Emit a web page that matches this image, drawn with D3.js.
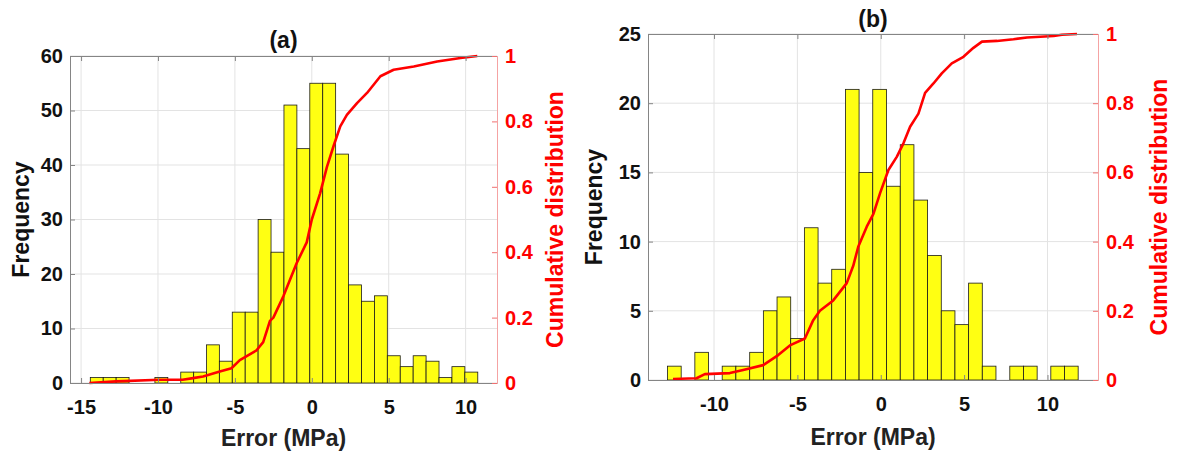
<!DOCTYPE html>
<html>
<head>
<meta charset="utf-8">
<script src="https://cdn.jsdelivr.net/npm/d3@7"></script>
<style>
  html, body { margin: 0; padding: 0; background: #fff; }
  svg { display: block; }
  text { font-family: "Liberation Sans", Arial, sans-serif; font-weight: bold; }
</style>
</head>
<body>
<script>
// ---- data ------------------------------------------------------------
// panel (a): histogram of errors, 30 bins
const edgesA = [-14.40, -13.56, -12.72, -11.88, -11.04, -10.20, -9.36, -8.52, -7.68, -6.84,
  -6.01, -5.17, -4.33, -3.49, -2.65, -1.81, -0.97, -0.13, 0.71, 1.55,
  2.39, 3.23, 4.07, 4.91, 5.75, 6.59, 7.43, 8.27, 9.11, 9.95, 10.79];
const countsA = [1, 1, 1, 0, 0, 1, 0, 2, 2, 7, 4, 13, 13, 30, 24, 51, 43, 55, 55, 42,
  18, 15, 16, 5, 3, 5, 4, 1, 3, 2];
// empirical cumulative distribution (a)
const cdfXA = [-14.46, -12.72, -9.9, -8.4, -7.72, -7.07, -5.98, -5.22, -4.68, -3.59, -3.16,
  -2.72, -2.5, -1.85, -0.98, -0.33, 0, 0.54, 0.98, 1.41, 1.85, 2.28, 2.94, 3.59,
  4.46, 5.32, 6.63, 8.15, 9.67, 10.76];
const cdfYA = [0, 0.005, 0.01, 0.01, 0.015, 0.02, 0.035, 0.045, 0.07, 0.10, 0.125,
  0.19, 0.20, 0.265, 0.367, 0.43, 0.5, 0.58, 0.66, 0.724, 0.785, 0.82, 0.856, 0.887,
  0.938, 0.958, 0.968, 0.983, 0.994, 1.0];

// panel (b)
const edgesB = [-12.79, -11.97, -11.15, -10.33, -9.51, -8.69, -7.86, -7.04, -6.22, -5.40,
  -4.58, -3.76, -2.94, -2.12, -1.30, -0.48, 0.35, 1.17, 1.99, 2.81,
  3.63, 4.45, 5.27, 6.09, 6.91, 7.74, 8.56, 9.38, 10.20, 11.02, 11.84];
const countsB = [1, 0, 2, 0, 1, 1, 2, 5, 6, 3, 11, 7, 8, 21, 15, 21, 14, 17, 13, 9,
  5, 4, 7, 1, 0, 1, 1, 0, 1, 1];
const cdfXB = [-12.46, -11.05, -10.55, -9.05, -8.25, -7.05, -6.15, -5.45, -4.55, -4.05,
  -3.65, -2.85, -2.04, -1.65, -1.35, -0.84, -0.44, -0.04, 0.46, 0.96, 1.36, 1.76,
  2.26, 2.66, 3.16, 3.66, 4.26, 4.96, 5.56, 6.07, 6.97, 7.96, 8.77, 10.37, 10.87, 11.77];
const cdfYB = [0.003, 0.005, 0.017, 0.02, 0.029, 0.043, 0.072, 0.10, 0.12, 0.173,
  0.20, 0.23, 0.28, 0.33, 0.385, 0.443, 0.48, 0.54, 0.607, 0.645, 0.684, 0.732,
  0.77, 0.83, 0.857, 0.886, 0.915, 0.934, 0.96, 0.978, 0.98, 0.985, 0.99, 0.994, 0.998, 1.0];

// ticks
const xTicksA = [-15, -10, -5, 0, 5, 10];
const yTicksA = [0, 10, 20, 30, 40, 50, 60];
const xTicksB = [-10, -5, 0, 5, 10];
const yTicksB = [0, 5, 10, 15, 20, 25];
const cdfTicks = [0, 0.2, 0.4, 0.6, 0.8, 1];

const W = 1182, H = 452;
const svg = d3.select("body").append("svg")
    .attr("width", W)
    .attr("height", H);

// plain hyphen minus, like the original figure
const fmt = d => String(d);

function drawPanel(p) {
  let x = d3.scaleLinear().domain(p.xDomain).range([p.left, p.right]),
      y = d3.scaleLinear().domain(p.yDomain).range([p.bottom, p.top]),
      y2 = d3.scaleLinear().domain([0, 1]).range([p.bottom, p.top]);

  let g = svg.append("g");

  // grid lines (behind data)
  g.append("g").selectAll("line")
      .data(p.xTicks)
    .enter().append("line")
      .attr("x1", d => x(d)).attr("x2", d => x(d))
      .attr("y1", p.top).attr("y2", p.bottom)
      .attr("stroke", "#e3e3e3").attr("stroke-width", 1);
  g.append("g").selectAll("line")
      .data(p.yTicks)
    .enter().append("line")
      .attr("x1", p.left).attr("x2", p.right)
      .attr("y1", d => y(d)).attr("y2", d => y(d))
      .attr("stroke", "#e3e3e3").attr("stroke-width", 1);

  // histogram bars
  let bins = p.counts.map((c, i) => ({x0: p.edges[i], x1: p.edges[i + 1], n: c}))
      .filter(d => d.n > 0);
  g.append("g").selectAll("rect")
      .data(bins)
    .enter().append("rect")
      .attr("x", d => x(d.x0))
      .attr("width", d => x(d.x1) - x(d.x0))
      .attr("y", d => y(d.n))
      .attr("height", d => y(0) - y(d.n))
      .attr("fill", "#ffff12")
      .attr("stroke", "#1a1a1a")
      .attr("stroke-width", 0.8);

  // cumulative distribution
  let line = d3.line()
      .x(d => x(d[0]))
      .y(d => y2(d[1]));
  g.append("path")
      .datum(p.cdfX.map((v, i) => [v, p.cdfY[i]]))
      .attr("d", line)
      .attr("fill", "none")
      .attr("stroke", "#ff0000")
      .attr("stroke-width", 2.6)
      .attr("stroke-linejoin", "round");

  // axes, box style with inward ticks
  let axGray = "#858585";
  let bottomAx = g.append("g")
      .attr("transform", `translate(0,${p.bottom})`)
      .call(d3.axisBottom(x).tickValues(p.xTicks).tickSizeInner(-5).tickSizeOuter(0).tickFormat(fmt));
  let topAx = g.append("g")
      .attr("transform", `translate(0,${p.top})`)
      .call(d3.axisTop(x).tickValues(p.xTicks).tickSizeInner(-5).tickSizeOuter(0).tickFormat(""));
  let leftAx = g.append("g")
      .attr("transform", `translate(${p.left},0)`)
      .call(d3.axisLeft(y).tickValues(p.yTicks).tickSizeInner(-5).tickSizeOuter(0)
        .tickPadding(7).tickFormat(fmt));
  let rightAx = g.append("g")
      .attr("transform", `translate(${p.right},0)`)
      .call(d3.axisRight(y2).tickValues(cdfTicks).tickSizeInner(-5).tickSizeOuter(0)
        .tickPadding(8).tickFormat(fmt));

  [bottomAx, topAx, leftAx].forEach(a => {
    a.select(".domain").attr("stroke", axGray);
    a.selectAll(".tick line").attr("stroke", axGray);
    a.selectAll(".tick text").attr("fill", "#111").attr("font-size", "20px");
  });
  rightAx.select(".domain").attr("stroke", "#f5a3a3");
  rightAx.selectAll(".tick line").attr("stroke", "#f07070");
  rightAx.selectAll(".tick text").attr("fill", "#ff0000").attr("font-size", "20px");
  bottomAx.selectAll(".tick text").attr("dy", "0.71em").attr("y", 17);
  svg.selectAll("g text").attr("font-family", null);

  // titles and axis labels
  let cx = (p.left + p.right) / 2,
      cy = (p.top + p.bottom) / 2;
  g.append("text")
      .attr("x", cx).attr("y", p.titleY)
      .attr("text-anchor", "middle")
      .attr("font-size", "23px")
      .attr("fill", "#111")
      .text(p.title);
  g.append("text")
      .attr("x", cx).attr("y", p.xLabelY)
      .attr("text-anchor", "middle")
      .attr("font-size", "23px")
      .attr("fill", "#222")
      .text("Error (MPa)");
  g.append("text")
      .attr("transform", `translate(${p.yLabelX},${cy}) rotate(-90)`)
      .attr("text-anchor", "middle")
      .attr("font-size", "23px")
      .attr("fill", "#111")
      .text("Frequency");
  g.append("text")
      .attr("transform", `translate(${p.y2LabelX},${cy}) rotate(-90)`)
      .attr("text-anchor", "middle")
      .attr("font-size", "23px")
      .attr("fill", "#ff0000")
      .text("Cumulative distribution");
}

drawPanel({
  left: 70, right: 497, top: 56, bottom: 383,
  xDomain: [-15.72, 12.04], yDomain: [0, 60],
  xTicks: xTicksA, yTicks: yTicksA,
  edges: edgesA, counts: countsA, cdfX: cdfXA, cdfY: cdfYA,
  title: "(a)", titleY: 48, xLabelY: 446, yLabelX: 29, y2LabelX: 563
});

drawPanel({
  left: 648, right: 1098, top: 34, bottom: 380,
  xDomain: [-13.96, 13.03], yDomain: [0, 25],
  xTicks: xTicksB, yTicks: yTicksB,
  edges: edgesB, counts: countsB, cdfX: cdfXB, cdfY: cdfYB,
  title: "(b)", titleY: 27, xLabelY: 445, yLabelX: 602, y2LabelX: 1167
});
</script>
</body>
</html>
